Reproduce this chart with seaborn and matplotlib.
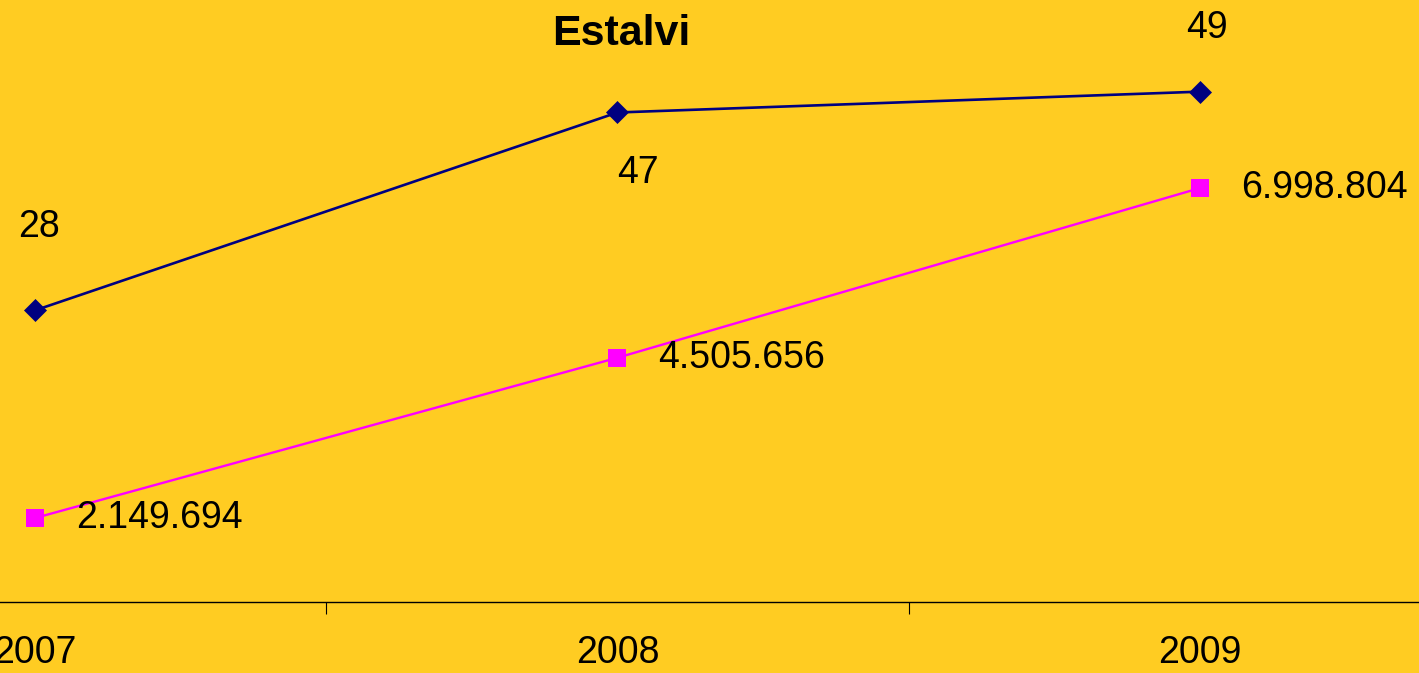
import matplotlib
matplotlib.use("Agg")
import matplotlib.pyplot as plt
import seaborn as sns
import pandas as pd
from matplotlib.ticker import FixedLocator

years = ["2007", "2008", "2009"]
series_a = [28, 47, 49]
series_b = [2149694, 4505656, 6998804]
labels_a = ["28", "47", "49"]
labels_b = ["2.149.694", "4.505.656", "6.998.804"]
title = "Estalvi"

BG = "#FFCC22"
NAVY = "#000080"
MAGENTA = "#FF00FF"

sns.set_style("white")
plt.rcParams["font.family"] = ["Liberation Sans", "DejaVu Sans"]

df = pd.DataFrame({"x": range(len(years)), "a": series_a, "b": series_b})

fig = plt.figure(figsize=(14.19, 6.73), dpi=100)
fig.patch.set_facecolor(BG)
ax = fig.add_axes([0, 1 - 602 / 673, 1, 602 / 673])
ax.set_facecolor(BG)
ax2 = ax.twinx()

sns.lineplot(data=df, x="x", y="a", ax=ax, color=NAVY, linewidth=1.9,
             marker="D", markersize=11, markeredgewidth=0.5, markeredgecolor=NAVY)
sns.lineplot(data=df, x="x", y="b", ax=ax2, color=MAGENTA, linewidth=1.7,
             marker="s", markersize=13, markeredgewidth=0, markeredgecolor=MAGENTA)

ax.set_xlim(-0.060, 2.376)
ax.set_ylim(0, 57.8)
ax2.set_ylim(0.916e6, 9.762e6)

for a in (ax, ax2):
    a.set_xlabel("")
    a.set_ylabel("")
    for s in ("top", "left", "right"):
        a.spines[s].set_visible(False)
    a.set_yticks([])
ax2.spines["bottom"].set_visible(False)
ax.spines["bottom"].set_color("black")
ax.spines["bottom"].set_linewidth(1.0)

ax.xaxis.set_major_locator(FixedLocator([-0.5, 0.5, 1.5, 2.5]))
ax.xaxis.set_minor_locator(FixedLocator(list(range(len(years)))))
ax.set_xticklabels(["", "", "", ""])
ax.set_xticklabels(years, minor=True)
ax.tick_params(axis="x", which="major", direction="out", length=8.6, width=0.8,
               color="black", bottom=True)
ax.tick_params(axis="x", which="minor", length=0, pad=24, labelsize=27,
               labelcolor="black")

offs_a = [(4, 83), (20, -61), (7, 64)]
for i, (v, t) in enumerate(zip(series_a, labels_a)):
    ax.annotate(t, (i, v), xytext=offs_a[i], textcoords="offset pixels",
                ha="center", va="center", fontsize=27, color="black")
for i, (v, t) in enumerate(zip(series_b, labels_b)):
    ax2.annotate(t, (i, v), xytext=(41, 0), textcoords="offset pixels",
                 ha="left", va="center", fontsize=27, color="black")

fig.text(621 / 1419, 1 - 34 / 673, title, ha="center", va="center",
         fontsize=31, fontweight="bold", color="black")

fig.savefig("out.png", dpi=100, facecolor=BG)
